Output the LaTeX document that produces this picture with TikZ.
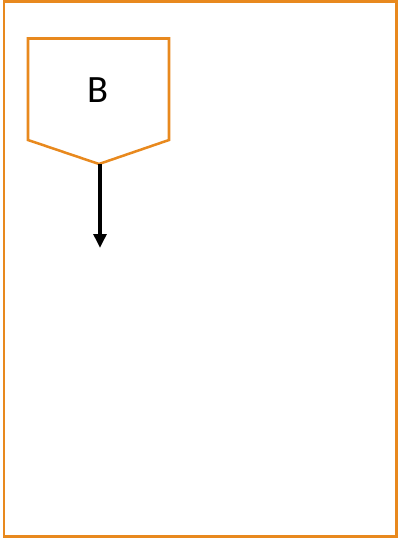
\documentclass[tikz,border=0pt]{standalone}
\usepackage{fontspec}
\setmainfont{Carlito}
\usetikzlibrary{arrows.meta}
\definecolor{frameorange}{HTML}{E8891E}
\begin{document}
\begin{tikzpicture}[x=0.75pt,y=-0.75pt,
  outline/.style={draw=frameorange, line width=1.9pt, line join=miter},
  flowarrow/.style={draw=black, line width=2.8pt, -{Triangle[length=10.5pt,width=9.5pt]}},
  labeltext/.style={font=\fontsize{29}{34}\selectfont, inner sep=0pt}]
\useasboundingbox (0,0) rectangle (399,539);
\draw[outline] (4,1.5) rectangle (396.5,536.5);
\coordinate (tl) at (28,38.5);
\coordinate (tr) at (169,38.5);
\coordinate (br) at (169,140);
\coordinate (tip) at (99,164);
\coordinate (bl) at (28,140);
\draw[outline] (tl) -- (tr) -- (br) -- (tip) -- (bl) -- cycle;
\node[labeltext] (label) at (98,90) {B};
\coordinate (arrowstart) at (100,164);
\coordinate (arrowend) at (100,248);
\draw[flowarrow] (arrowstart) -- (arrowend);
\end{tikzpicture}
\end{document}
